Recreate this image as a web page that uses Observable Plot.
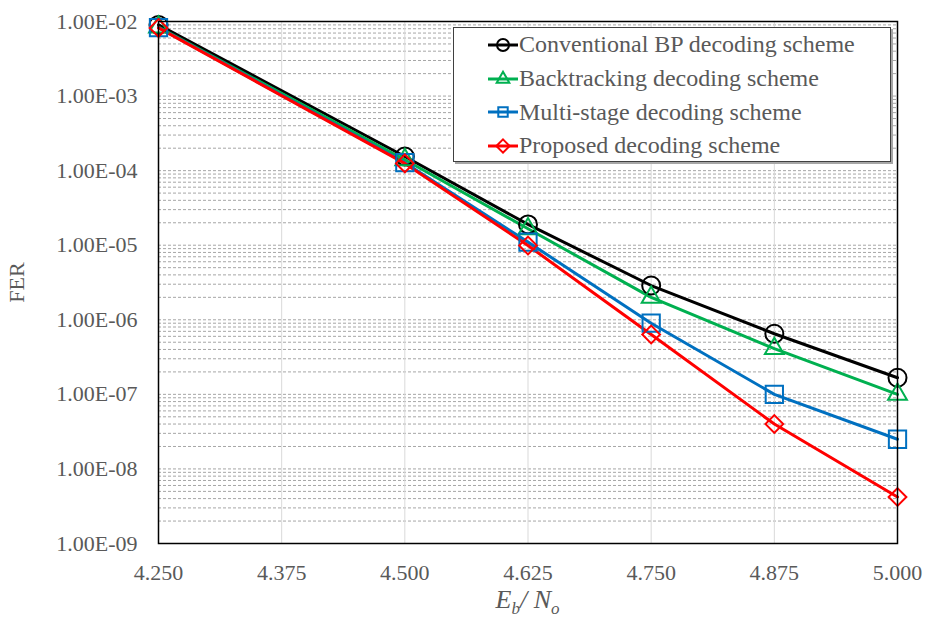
<!DOCTYPE html>
<html><head><meta charset="utf-8">
<script src="https://cdn.jsdelivr.net/npm/d3@7"></script>
<script src="https://cdn.jsdelivr.net/npm/@observablehq/plot@0.6"></script>
<style>
body{margin:0;background:#fff;}
#wrap{position:relative;width:933px;height:622px;font-family:"Liberation Serif","Times New Roman",serif;color:#595959;}
#legend{position:absolute;left:453px;top:27px;width:438px;height:135px;border:1px solid #404040;background:#fff;box-shadow:2px 2px 0 #a6a6a6;box-sizing:border-box;padding-top:0px;}
.row{display:flex;align-items:center;height:33.7px;padding-left:34px;font-size:24px;white-space:nowrap;}
.row svg{flex:none;margin-right:1px;}
#xtitle{position:absolute;left:0;width:1055px;top:585px;text-align:center;font-size:26px;font-style:italic;}
#xtitle sub{font-size:17px;}
</style></head><body><div id="wrap"></div>
<script>
const ebno = [4.25, 4.5, 4.625, 4.75, 4.875, 5.0];
const xTicks = [4.25, 4.375, 4.5, 4.625, 4.75, 4.875, 5.0];
const yTicks = [1e-2, 1e-3, 1e-4, 1e-5, 1e-6, 1e-7, 1e-8, 1e-9];
const names = ["Conventional BP decoding scheme", "Backtracking decoding scheme", "Multi-stage decoding scheme", "Proposed decoding scheme"];
const colors = ["#000000", "#00B050", "#0070C0", "#FF0000"];
const symbols = ["circle", "triangle2", "square2", "diamond2"];
const conventional = [9.0e-3, 1.55e-4, 1.9e-5, 2.88e-6, 6.5e-7, 1.67e-7];
const backtracking = [8.4e-3, 1.4e-4, 1.66e-5, 2.0e-6, 4.1e-7, 1.0e-7];
const multistage = [8.3e-3, 1.28e-4, 1.1e-5, 9.0e-7, 1.0e-7, 2.5e-8];
const proposed = [8.2e-3, 1.25e-4, 9.9e-6, 6.35e-7, 4.0e-8, 4.2e-9];
const seriesValues = [conventional, backtracking, multistage, proposed];
const markerR = [9, 9, 11, 8];

const minorGrid = [];
for (let e = -9; e <= -3; e++) for (let k = 1; k <= 9; k++) minorGrid.push(k * Math.pow(10, e));

const rows = [];
seriesValues.forEach((vals, i) => ebno.forEach((x, j) => rows.push({series: names[i], idx: i, x, y: vals[j]})));

const yFmt = d => "1.00E-" + String(-Math.round(Math.log10(d))).padStart(2, "0");

const marks = [
  Plot.ruleY(minorGrid, {stroke: "#a6a6a6", strokeDasharray: "3,2", strokeWidth: 1}),
  Plot.ruleX(xTicks, {stroke: "#d9d9d9", strokeWidth: 1}),
];
names.forEach((n, i) => {
  const d = rows.filter(r => r.idx === i);
  marks.push(Plot.line(d, {x: "x", y: "y", stroke: colors[i], strokeWidth: 3}));
});
names.forEach((n, i) => {
  const d = rows.filter(r => r.idx === i);
  marks.push(Plot.dot(d, {x: "x", y: "y", stroke: colors[i], fill: "none", strokeWidth: 2, symbol: symbols[i], r: markerR[i]}));
});
marks.push(Plot.frame({stroke: "#000", strokeWidth: 1.5}));
marks.push(Plot.axisX(xTicks, {tickSize: 0, tickPadding: 21, tickFormat: d3.format(".3f"), label: null}));
marks.push(Plot.axisY(yTicks, {tickSize: 0, tickPadding: 21, tickFormat: yFmt, label: "FER", labelAnchor: "center", labelArrow: "none", labelOffset: 150}));

const chart = Plot.plot({
  width: 933, height: 622,
  marginLeft: 158, marginRight: 36, marginTop: 21, marginBottom: 79,
  x: {domain: [4.25, 5.0]},
  y: {type: "log", domain: [1e-9, 1e-2]},
  style: {fontFamily: "'Liberation Serif', 'Times New Roman', serif", fontSize: "22px", color: "#595959", background: "#fff", overflow: "visible"},
  marks
});
const wrap = document.getElementById("wrap");
wrap.appendChild(chart);

// legend
const legend = document.createElement("div");
legend.id = "legend";
const symMap = {circle: d3.symbolCircle, triangle2: d3.symbolTriangle2, square2: d3.symbolSquare2, diamond2: d3.symbolDiamond2};
names.forEach((n, i) => {
  const row = document.createElement("div");
  row.className = "row";
  const svg = d3.create("svg").attr("width", 30).attr("height", 20);
  svg.append("line").attr("x1", 0).attr("x2", 30).attr("y1", 10).attr("y2", 10).attr("stroke", colors[i]).attr("stroke-width", 3);
  const r = 6;
  svg.append("path").attr("transform", "translate(15,10)").attr("d", d3.symbol(symMap[symbols[i]], Math.PI * r * r)())
    .attr("fill", "none").attr("stroke", colors[i]).attr("stroke-width", 2);
  row.appendChild(svg.node());
  const span = document.createElement("span");
  span.textContent = n;
  row.appendChild(span);
  legend.appendChild(row);
});
wrap.appendChild(legend);

const xt = document.createElement("div");
xt.id = "xtitle";
xt.innerHTML = "E<sub>b</sub>/ N<sub>o</sub>";
wrap.appendChild(xt);
</script>
</body></html>
